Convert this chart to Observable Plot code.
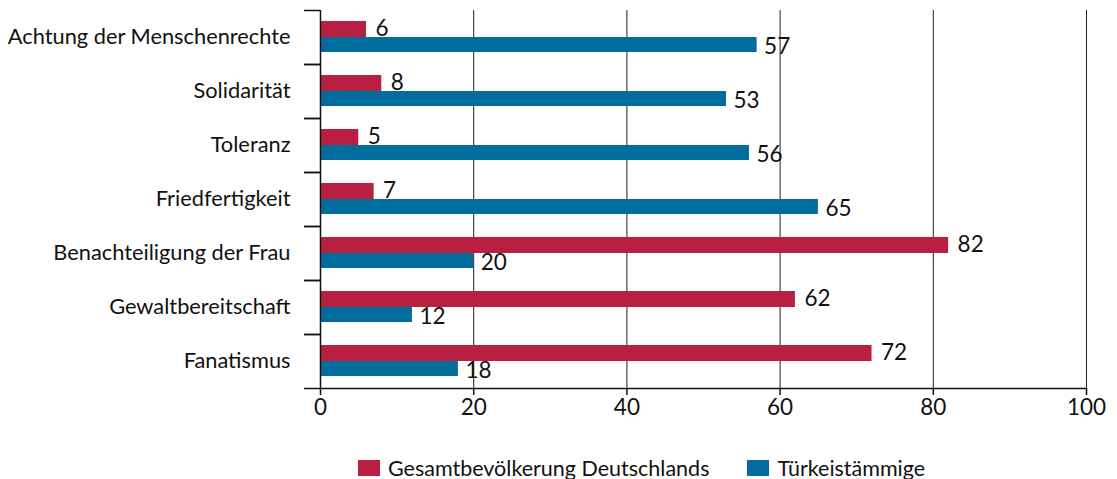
<!DOCTYPE html>
<html>
<head>
<meta charset="utf-8">
<script src="https://cdn.jsdelivr.net/npm/d3@7"></script>
<script src="https://cdn.jsdelivr.net/npm/@observablehq/plot@0.6"></script>
<style>
  body { margin: 0; background: #fff; font-family: Lato, sans-serif; }
  #legend { display: flex; align-items: center; padding-left: 358px; padding-top: 8px; height: 39px; font-size: 21.5px; color: #111; }
  .item { display: flex; align-items: center; margin-right: 38px; }
  .sw { width: 22px; height: 16px; margin-right: 8px; }
</style>
</head>
<body>
<div id="chart"></div>
<div id="legend"></div>
<script>
const categories = ["Achtung der Menschenrechte", "Solidarität", "Toleranz", "Friedfertigkeit", "Benachteiligung der Frau", "Gewaltbereitschaft", "Fanatismus"];
const gesamt = [6, 8, 5, 7, 82, 62, 72];
const tuerk = [57, 53, 56, 65, 20, 12, 18];
const seriesNames = ["Gesamtbevölkerung Deutschlands", "Türkeistämmige"];
const seriesColors = ["#b81f41", "#006d9c"];
const xTicks = [0, 20, 40, 60, 80, 100];

const redRows = categories.map((c, i) => ({cat: c, value: gesamt[i]}));
const blueRows = categories.map((c, i) => ({cat: c, value: tuerk[i]}));

const chart = Plot.plot({
  width: 1117,
  height: 440,
  marginLeft: 320,
  marginRight: 31,
  marginTop: 10,
  marginBottom: 52,
  style: {fontFamily: "Lato, sans-serif", fontSize: "22px", color: "#111"},
  x: {domain: [0, 100], ticks: xTicks},
  y: {domain: categories, padding: 0, label: null},
  marks: [
    Plot.gridX(xTicks.slice(1), {stroke: "#222", strokeOpacity: 1, strokeWidth: 1}),
    Plot.barX(redRows, {x: "value", y: "cat", fill: seriesColors[0], insetTop: 11, insetBottom: 27}),
    Plot.barX(blueRows, {x: "value", y: "cat", fill: seriesColors[1], insetTop: 27, insetBottom: 12}),
    Plot.text(redRows, {x: "value", y: "cat", text: d => String(d.value), dy: -9, dx: 9, textAnchor: "start", fontSize: 22.5, fill: "#111"}),
    Plot.text(blueRows, {x: "value", y: "cat", text: d => String(d.value), dy: 9, dx: 7, textAnchor: "start", fontSize: 22.5, fill: "#111"}),
    Plot.ruleX([0], {stroke: "#111", strokeWidth: 1.5}),
    Plot.frame({anchor: "bottom", stroke: "#111", strokeWidth: 1.5}),
    Plot.axisY({tickSize: 0, tickPadding: 30, fontSize: 21.8, label: null}),
    Plot.axisY({tickSize: 16, text: null, dy: -27, label: null, strokeWidth: 1.5}),
    Plot.axisY({tickSize: 16, text: null, dy: 27, label: null, strokeWidth: 1.5}),
    Plot.axisX({ticks: xTicks, tickSize: 7, tickPadding: 4, fontSize: 22.5, label: null, strokeWidth: 1.5})
  ]
});
document.getElementById("chart").appendChild(chart);

const legend = document.getElementById("legend");
seriesNames.forEach((n, i) => {
  const it = document.createElement("div");
  it.className = "item";
  const sw = document.createElement("div");
  sw.className = "sw";
  sw.style.background = seriesColors[i];
  const t = document.createElement("span");
  t.textContent = n;
  it.appendChild(sw); it.appendChild(t);
  legend.appendChild(it);
});
</script>
</body>
</html>
